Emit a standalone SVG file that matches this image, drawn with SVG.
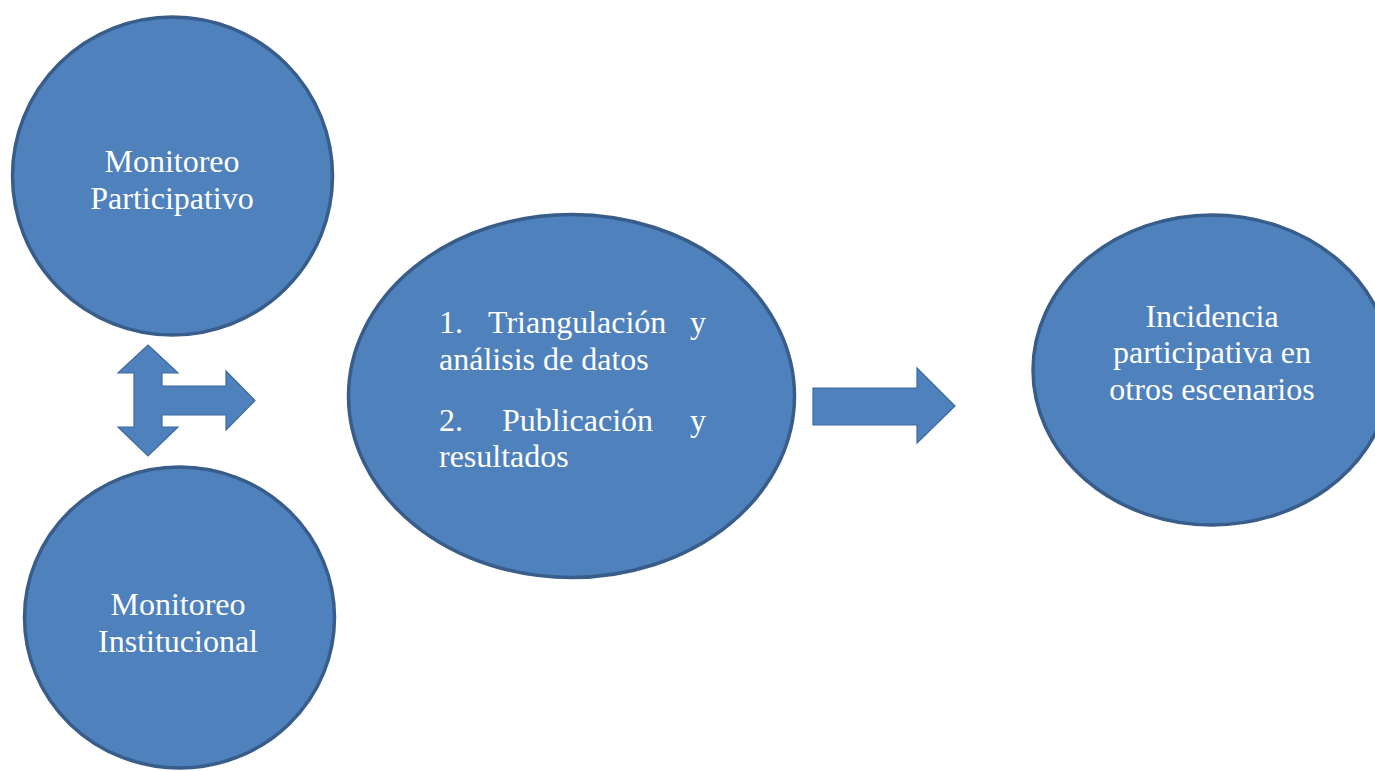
<svg xmlns="http://www.w3.org/2000/svg" width="1375" height="771" viewBox="0 0 1375 771">
<style>
.node{fill:#4F81BD;stroke:#385D8A;stroke-width:3.5}
.arrow{fill:#4F81BD;stroke:#3E6A9E;stroke-width:1.2;stroke-linejoin:miter}
text{font-family:'Liberation Serif','Times New Roman',serif;font-size:32px;fill:#FFFFFF}
.c{text-anchor:middle}
.e{text-anchor:end}
</style>
<rect width="1375" height="771" fill="#FFFFFF"/>
<g id="connectors">
<path class="arrow" d="M148,345 L178,373 L162,373 L162,386 L226,386 L226,371 L255,400.5 L226,430 L226,415 L162,415 L162,427 L178,427 L148,456 L118,427 L134,427 L134,373 L118,373 Z"/>
<path class="arrow" d="M813,388 L917,388 L917,368 L955,406 L917,443 L917,425 L813,425 Z"/>
</g>
<g id="monitoreo-participativo">
<ellipse class="node" cx="172.5" cy="176" rx="160" ry="159"/>
<text class="c" x="172" y="172" font-family="Liberation Serif, serif">Monitoreo</text>
<text class="c" x="172" y="209" font-family="Liberation Serif, serif">Participativo</text>
</g>
<g id="monitoreo-institucional">
<ellipse class="node" cx="179.5" cy="617.5" rx="155" ry="150.5"/>
<text class="c" x="178" y="615">Monitoreo</text>
<text class="c" x="178" y="652">Institucional</text>
</g>
<g id="triangulacion">
<ellipse class="node" cx="571.5" cy="396" rx="223" ry="181.5"/>
<text x="439" y="333">1.</text>
<text x="488" y="333">Triangulación</text>
<text class="e" x="706" y="333">y</text>
<text x="439" y="370">análisis de datos</text>
<text x="439" y="431">2.</text>
<text x="502" y="431">Publicación</text>
<text class="e" x="706" y="431">y</text>
<text x="439" y="467">resultados</text>
</g>
<g id="incidencia">
<ellipse class="node" cx="1212" cy="370" rx="179" ry="155"/>
<text class="c" x="1212" y="327">Incidencia</text>
<text class="c" x="1212" y="363">participativa en</text>
<text class="c" x="1212" y="400">otros escenarios</text>
</g>
</svg>
